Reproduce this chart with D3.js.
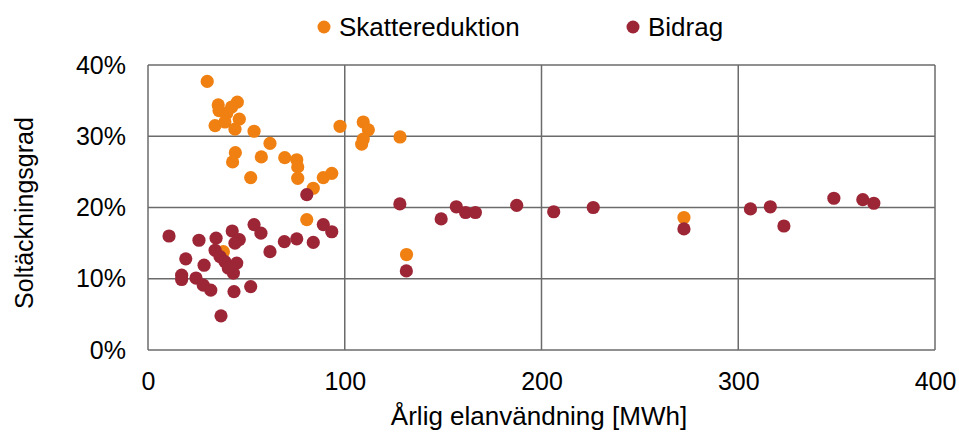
<!DOCTYPE html>
<html><head><meta charset="utf-8">
<script src="https://cdn.jsdelivr.net/npm/d3@7"></script>
<style>body{margin:0;background:#fff}text{font-family:"Liberation Sans",Arial,sans-serif;fill:#000}</style>
</head><body><svg id="c" width="959" height="433"></svg>
<script>
const seriesNames = ["Skattereduktion", "Bidrag"];
const seriesColors = ["#EF8011", "#9C2536"];
const skatteX = [30.1,35.7,36.1,45.4,42.5,40.0,46.4,34.1,39.1,44.2,53.9,62.0,44.4,43.0,57.6,52.2,69.5,75.6,76.1,76.1,84.0,89.1,93.4,97.6,109.4,112.0,109.4,108.6,128.1,80.7,131.4,272.4,38.3];
const skatteY = [37.7,34.4,33.6,34.8,34.1,33.2,32.4,31.5,32.0,31.0,30.7,29.0,27.7,26.4,27.1,24.2,27.0,26.7,25.7,24.1,22.7,24.2,24.8,31.4,32.0,30.9,29.6,28.9,29.9,18.3,13.4,18.6,13.8];
const bidragX = [10.7,25.9,34.6,42.8,46.4,44.2,53.9,57.4,34.1,19.2,28.5,17.1,17.1,24.4,28.1,31.9,43.7,52.2,37.1,62.0,69.3,75.6,84.0,89.1,93.4,80.7,128.0,149.0,156.7,161.4,166.4,187.4,206.2,226.3,272.4,306.2,316.3,323.2,348.6,363.3,368.9,131.3,36.6,39.1,45.1,43.4,40.8];
const bidragY = [16.0,15.4,15.7,16.7,15.5,15.0,17.6,16.4,14.0,12.8,11.9,10.5,9.9,10.1,9.1,8.4,8.2,8.9,4.8,13.8,15.2,15.6,15.1,17.6,16.6,21.8,20.5,18.4,20.1,19.3,19.3,20.3,19.4,20.0,17.0,19.8,20.1,17.4,21.3,21.1,20.6,11.1,13.1,12.4,12.2,10.8,11.5];
const xTicks = [0,100,200,300,400];
const yTicks = [0,10,20,30,40];

const svg = d3.select("#c");
const L=148, R=935, T=65, B=350;
const x = d3.scaleLinear().domain([0,400]).range([L,R]);
const y = d3.scaleLinear().domain([0,40]).range([B,T]);
const gridColor = "#6b6b6b";

svg.append("g").selectAll("line").data(xTicks).join("line")
  .attr("x1",d=>x(d)).attr("x2",d=>x(d)).attr("y1",T).attr("y2",B)
  .attr("stroke",gridColor).attr("stroke-width",1.5);
svg.append("g").selectAll("line").data(yTicks).join("line")
  .attr("y1",d=>y(d)).attr("y2",d=>y(d)).attr("x1",L).attr("x2",R)
  .attr("stroke",gridColor).attr("stroke-width",1.5);

const xAxis = svg.append("g").attr("transform",`translate(0,${B})`)
  .call(d3.axisBottom(x).tickValues(xTicks).tickSize(0).tickPadding(22));
const yAxis = svg.append("g").attr("transform",`translate(${L},0)`)
  .call(d3.axisLeft(y).tickValues(yTicks).tickFormat(d=>d+"%").tickSize(0).tickPadding(22));
[xAxis,yAxis].forEach(a=>{a.select(".domain").remove();
  a.selectAll("text").attr("font-family","'Liberation Sans',Arial,sans-serif").attr("font-size",25).attr("fill","#000");});

const sk = skatteX.map((v,i)=>({x:v,y:skatteY[i]}));
const bi = bidragX.map((v,i)=>({x:v,y:bidragY[i]}));
svg.append("g").selectAll("circle").data(sk).join("circle")
  .attr("cx",d=>x(d.x)).attr("cy",d=>y(d.y)).attr("r",6.6).attr("fill",seriesColors[0]);
svg.append("g").selectAll("circle").data(bi).join("circle")
  .attr("cx",d=>x(d.x)).attr("cy",d=>y(d.y)).attr("r",6.6).attr("fill",seriesColors[1]);

svg.append("text").attr("x",539).attr("y",425).attr("text-anchor","middle")
  .attr("font-size",26).text("Årlig elanvändning [MWh]");
svg.append("text").attr("transform","translate(33,213) rotate(-90)").attr("text-anchor","middle")
  .attr("font-size",25).text("Soltäckningsgrad");

const legX = [324, 633];
seriesNames.forEach((n,i)=>{
  svg.append("circle").attr("cx",legX[i]).attr("cy",27).attr("r",6.5).attr("fill",seriesColors[i]);
  svg.append("text").attr("x",legX[i]+15).attr("y",36).attr("font-size",26).text(n);
});
</script></body></html>
